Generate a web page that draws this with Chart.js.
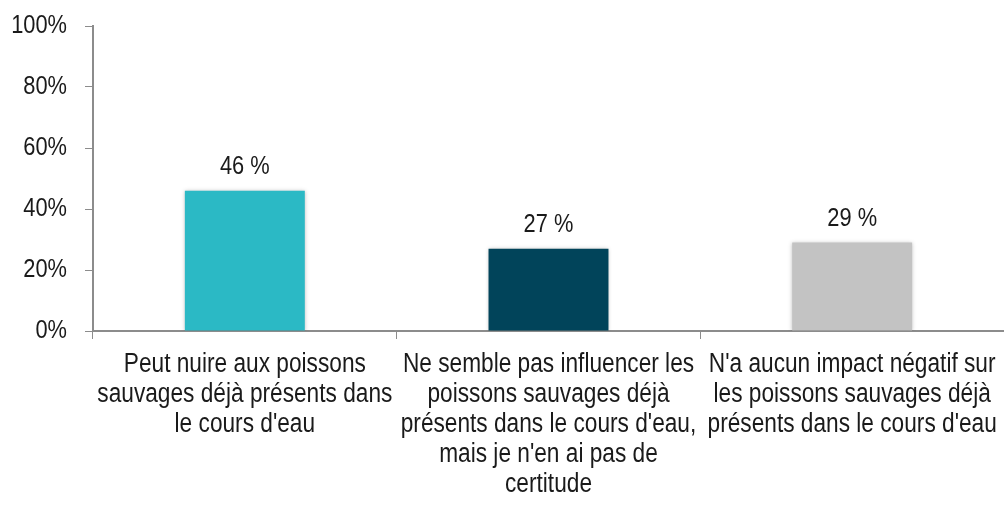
<!DOCTYPE html>
<html>
<head>
<meta charset="utf-8">
<script src="https://cdn.jsdelivr.net/npm/chart.js@4"></script>
<style>
html,body{margin:0;padding:0;background:#fff;}
#wrap{width:1004px;height:506px;position:relative;}
</style>
</head>
<body>
<div id="wrap"><canvas id="c" width="1004" height="506"></canvas></div>
<script>
const categories = [
  ["Peut nuire aux poissons", "sauvages déjà présents dans", "le cours d'eau"],
  ["Ne semble pas influencer les", "poissons sauvages déjà", "présents dans le cours d'eau,", "mais je n'en ai pas de", "certitude"],
  ["N'a aucun impact négatif sur", "les poissons sauvages déjà", "présents dans le cours d'eau"]
];
const values = [46, 27, 29];
const valueLabels = ["46 %", "27 %", "29 %"];
const barColors = ["#2BB9C5", "#01445A", "#C3C3C3"];
const yTicks = [0, 20, 40, 60, 80, 100];

const FONT = '"Liberation Sans", Arial, sans-serif';
const NARROW = 0.84;
const AXIS = '#8C8C8C';

// Condense text horizontally (Arial Narrow look) around the anchor point
const narrowPlugin = {
  id: 'narrow',
  beforeInit(chart) {
    const ctx = chart.ctx;
    const orig = ctx.fillText.bind(ctx);
    ctx.fillText = function (text, x, y, maxWidth) {
      ctx.save();
      ctx.translate(x, y);
      ctx.scale(NARROW, 1);
      orig(text, 0, 0);
      ctx.restore();
    };
  }
};

const shadowPlugin = {
  id: 'shadow',
  beforeDatasetsDraw(chart) {
    const ctx = chart.ctx;
    ctx.save();
    ctx.shadowColor = 'rgba(0,0,0,0.25)';
    ctx.shadowBlur = 4;
    ctx.shadowOffsetX = 0;
    ctx.shadowOffsetY = 0;
  },
  afterDatasetsDraw(chart) {
    chart.ctx.restore();
    const ctx = chart.ctx;
    const meta = chart.getDatasetMeta(0);
    ctx.save();
    ctx.font = '26px ' + FONT;
    ctx.fillStyle = '#1a1a1a';
    ctx.textAlign = 'center';
    ctx.textBaseline = 'alphabetic';
    meta.data.forEach((bar, i) => {
      ctx.fillText(valueLabels[i], bar.x, bar.y - 17);
    });
    ctx.restore();
  }
};

new Chart(document.getElementById('c'), {
  type: 'bar',
  data: {
    labels: categories,
    datasets: [{
      data: values,
      backgroundColor: barColors,
      borderWidth: 0,
      barPercentage: 0.395,
      categoryPercentage: 1.0
    }]
  },
  options: {
    responsive: false,
    animation: false,
    devicePixelRatio: 1,
    layout: { padding: { top: 26, right: 0, left: 0, bottom: 0 } },
    plugins: { legend: { display: false }, tooltip: { enabled: false } },
    scales: {
      x: {
        grid: { display: true, drawOnChartArea: false, drawTicks: true, tickLength: 8, color: AXIS, lineWidth: 1, offset: true },
        border: { display: true, color: AXIS, width: 2 },
        ticks: { color: '#1a1a1a', font: { family: FONT, size: 27, lineHeight: 30 / 27 }, padding: 11, maxRotation: 0, autoSkip: false },
        afterFit(scale) { scale.height = 175; scale.paddingLeft = 0; scale.paddingRight = 0; }
      },
      y: {
        min: 0, max: 100,
        afterBuildTicks(scale) { scale.ticks = yTicks.map(v => ({ value: v })); },
        grid: { display: true, drawOnChartArea: false, drawTicks: true, tickLength: 8, color: AXIS, lineWidth: 1 },
        border: { display: true, color: AXIS, width: 2 },
        ticks: { color: '#1a1a1a', font: { family: FONT, size: 26 }, padding: 18, callback: v => v + '%' },
        afterFit(scale) { scale.width = 93; scale.paddingTop = 0; scale.paddingBottom = 0; }
      }
    }
  },
  plugins: [narrowPlugin, shadowPlugin]
});
</script>
</body>
</html>
